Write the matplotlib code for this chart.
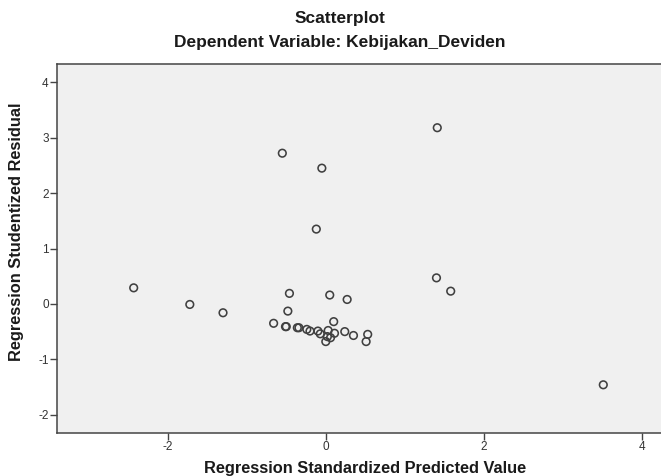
import matplotlib
matplotlib.use("Agg")
import matplotlib.pyplot as plt

plt.rcParams['font.family'] = ['Liberation Sans', 'DejaVu Sans']
plt.rcParams['axes.unicode_minus'] = False

pred = [-2.43, -1.72, -1.30, -0.66, -0.55, -0.51, -0.50, -0.48, -0.46, -0.36, -0.34,
        -0.24, -0.20, -0.12, -0.10, -0.07, -0.05, 0.00, 0.02, 0.03, 0.05, 0.06,
        0.10, 0.11, 0.24, 0.27, 0.35, 0.51, 0.53, 1.40, 1.41, 1.58, 3.51]
resid = [0.29, -0.01, -0.16, -0.35, 2.72, -0.41, -0.41, -0.13, 0.19, -0.43, -0.43,
         -0.46, -0.49, 1.35, -0.49, -0.54, 2.45, -0.68, -0.59, -0.48, 0.16, -0.61,
         -0.32, -0.53, -0.50, 0.08, -0.57, -0.68, -0.55, 0.47, 3.18, 0.23, -1.46]

title1 = "Scatterplot"
title2 = "Dependent Variable: Kebijakan_Deviden"
xlabel = "Regression Standardized Predicted Value"
ylabel = "Regression Studentized Residual"
xticks = [-2, 0, 2, 4]
yticks = [-2, -1, 0, 1, 2, 3, 4]

W, H = 661, 476
fig = plt.figure(figsize=(W / 100, H / 100), dpi=100)
ax = fig.add_axes([57 / W, (H - 433) / H, (661 - 57) / W, (433 - 64) / H])
ax.set_facecolor('#F0F0F0')
ax.scatter(pred, resid, s=30, facecolors='none', edgecolors='#404040', linewidths=1.15, zorder=3)

ax.set_xlim(-3.40, 4.24)
ax.set_ylim(-2.33, 4.33)
ax.set_xticks(xticks)
ax.set_yticks(yticks)
ax.tick_params(direction='out', length=5, width=1, color='#444444', labelsize=8.5, labelcolor='#333333', pad=1)
for side in ['left', 'bottom', 'top']:
    ax.spines[side].set_color('#444444')
    ax.spines[side].set_linewidth(1.1)
ax.spines['right'].set_visible(False)

fig.text(340 / W, 1 - 18 / H, title1, ha='center', va='center', fontsize=12.5, fontweight='bold', color='#1a1a1a')
fig.text(340 / W, 1 - 43 / H, title2, ha='center', va='center', fontsize=12.5, fontweight='bold', color='#1a1a1a')
fig.text(365 / W, 1 - 468 / H, xlabel, ha='center', va='center', fontsize=11.8, fontweight='bold', color='#1a1a1a')
fig.text(17 / W, 1 - 232 / H, ylabel, ha='center', va='center', rotation=90, fontsize=11.8, fontweight='bold', color='#1a1a1a')

fig.savefig('out.png', dpi=100, facecolor='white')
